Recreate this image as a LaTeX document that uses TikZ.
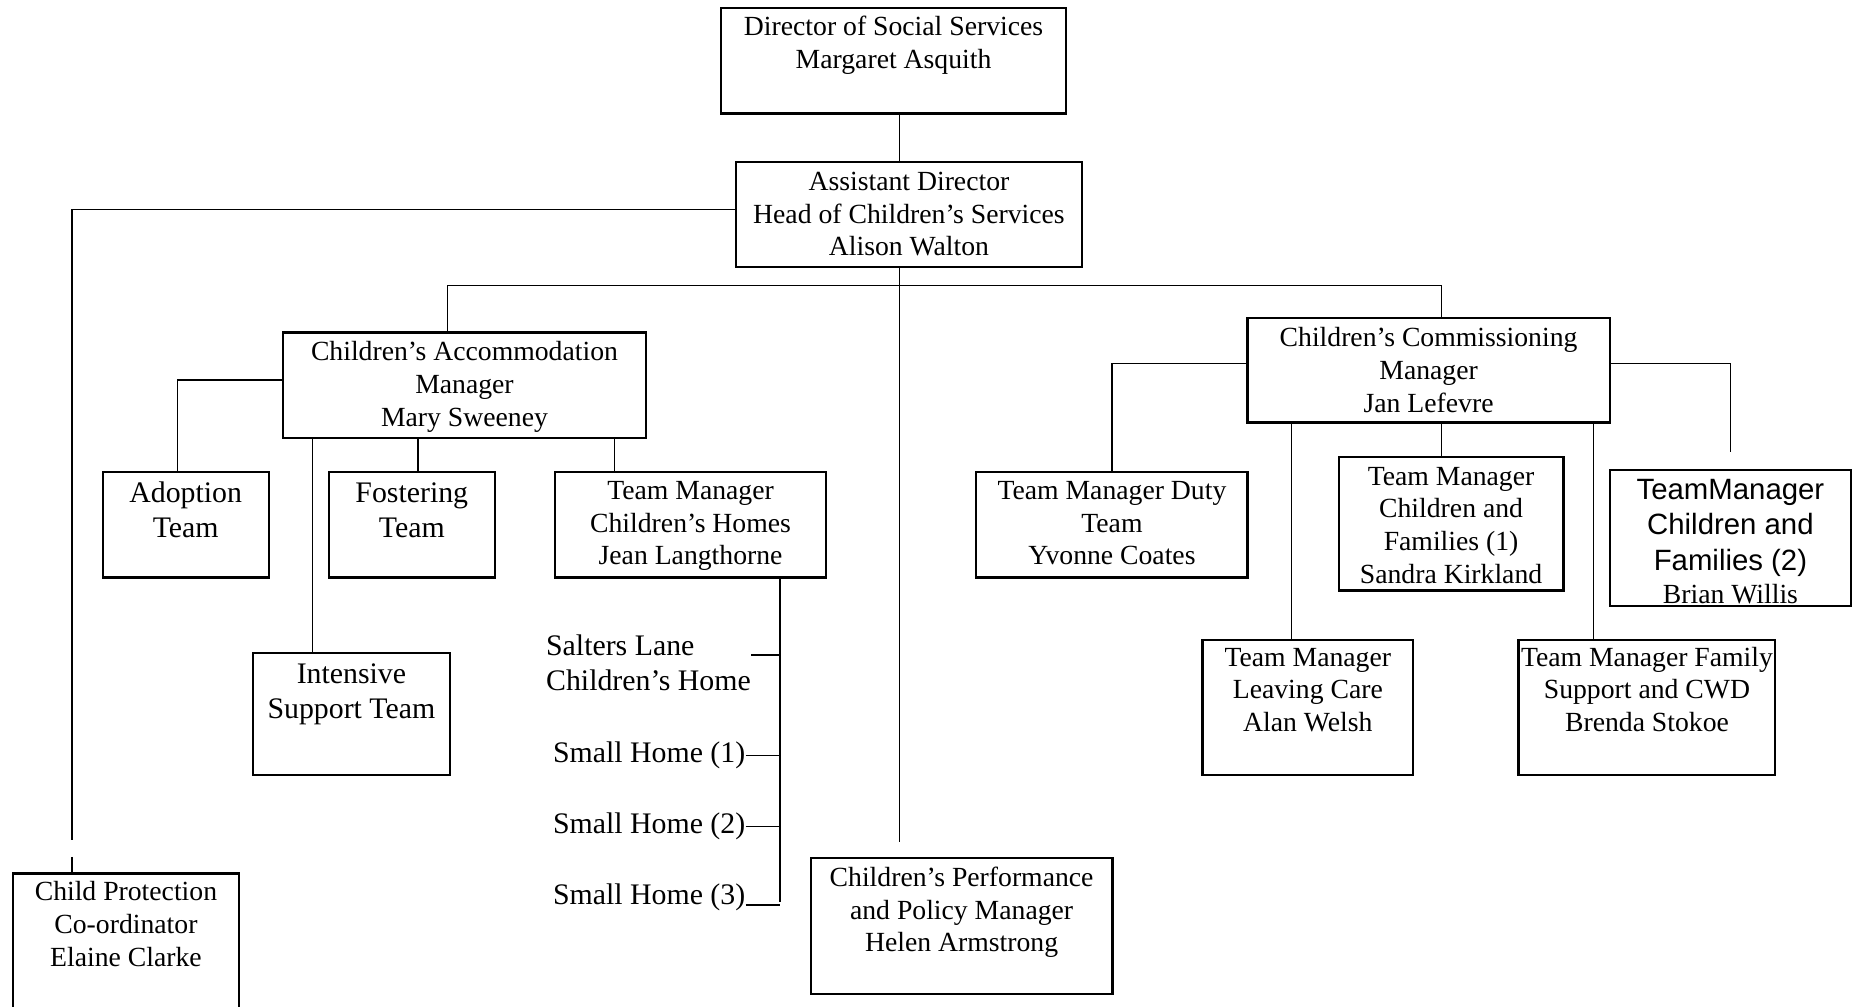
\documentclass[tikz,border=0pt]{standalone}
\usepackage{fontspec}
\setmainfont{Liberation Serif}
\newfontfamily\arialfont{Liberation Sans}
\usepackage{tikz}
\usetikzlibrary{calc,positioning}
\newcommand{\postlines}[1]{\begin{tabular}[t]{@{}c@{}}#1\end{tabular}}
\tikzstyle{post}=[draw,line width=0.9pt,inner sep=0pt,anchor=north west,font=\fontsize{11.7}{13.8}\selectfont]
\tikzstyle{bigpost}=[post,font=\fontsize{12.6}{15}\selectfont]
\tikzstyle{home}=[inner sep=0pt,font=\fontsize{12.6}{15}\selectfont]
\tikzstyle{link}=[line width=0.6pt]

\begin{document}
\begin{tikzpicture}[x=0.5pt,y=-0.5pt]
\path[use as bounding box,fill=white] (0,0) rectangle (1568,850);
\node [post,minimum width=146pt,text height=11.5pt,text depth=33pt] (dir) at (608,6) {\postlines{Director of Social Services\\Margaret Asquith}};
\node [post,minimum width=146pt,text height=12pt,text depth=32.5pt] (asst) at (621,136) {\postlines{Assistant Director\\Head of Children's Services\\Alison Walton}};
\node [post,minimum width=153.5pt,text height=12pt,text depth=32.5pt] (accom) at (238,280) {\postlines{Children's Accommodation\\Manager\\Mary Sweeney}};
\node [post,minimum width=153pt,text height=12pt,text depth=32pt] (comm) at (1053,268) {\postlines{Children's Commissioning\\Manager\\Jan Lefevre}};
\node [bigpost,minimum width=70pt,text height=12.75pt,text depth=31.75pt] (adopt) at (86,398) {\postlines{Adoption\\Team}};
\node [bigpost,minimum width=70pt,text height=12.75pt,text depth=31.75pt] (foster) at (277,398) {\postlines{Fostering\\Team}};
\node [post,minimum width=114.5pt,text height=11.5pt,text depth=33pt] (homes) at (468,398) {\postlines{Team Manager\\Children's Homes\\Jean Langthorne}};
\node [bigpost,minimum width=83pt,text height=12.75pt,text depth=38.75pt] (intens) at (213,551) {\postlines{Intensive\\Support Team}};
\node [post,minimum width=95.5pt,text height=11.5pt,text depth=63.5pt] (cp) at (10,737) {\postlines{Child Protection\\Co-ordinator\\Elaine Clarke}};
\node [post,minimum width=127.5pt,text height=12pt,text depth=45.5pt] (perf) at (684,724) {\postlines{Children's Performance\\and Policy Manager\\Helen Armstrong}};
\node [post,minimum width=114.5pt,text height=11.5pt,text depth=33pt] (duty) at (824,398) {\postlines{Team Manager Duty\\Team\\Yvonne Coates}};
\node [post,minimum width=95pt,text height=12pt,text depth=44.5pt] (cf1) at (1130,385) {\postlines{Team Manager\\Children and\\Families (1)\\Sandra Kirkland}};
\node [post,minimum width=102pt,text height=12.5pt,text depth=45pt] (cf2) at (1359,396) {\postlines{\arialfont\fontsize{12.4}{15}\selectfont TeamManager\\[1.2pt]\arialfont\fontsize{12.4}{15}\selectfont Children and\\[1.2pt]\arialfont\fontsize{12.4}{15}\selectfont Families (2)\\Brian Willis}};
\node [post,minimum width=89pt,text height=11pt,text depth=46pt] (leave) at (1015,540) {\postlines{Team Manager\\Leaving Care\\Alan Welsh}};
\node [post,minimum width=108.5pt,text height=11pt,text depth=46pt] (famsup) at (1282,540) {\postlines{Team Manager Family\\Support and CWD\\Brenda Stokoe}};
\node [home,anchor=base west] (salters) at (461,553.5) {\begin{tabular}[t]{@{}l@{}}Salters Lane\\Children's Home\end{tabular}};
\node [home,anchor=base east] (sh1) at (630,644.5) {Small Home (1)};
\node [home,anchor=base east] (sh2) at (630,704.5) {Small Home (2)};
\node [home,anchor=base east] (sh3) at (630,764.5) {Small Home (3)};

\coordinate (spine) at (760,711);
\coordinate (cpend) at (61,710);
\coordinate (cptop) at (61,724);
\coordinate (busL) at (378,241);
\coordinate (busR) at (1218,241);
\coordinate (trunk) at (659,762);
\coordinate (adoptdrop) at (150,0);
\coordinate (intdrop) at (264,0);
\coordinate (fosdrop) at (353,0);
\coordinate (homdrop) at (519,0);
\coordinate (levdrop) at (1091,0);
\coordinate (cf1drop) at (1218,0);
\coordinate (famdrop) at (1346,0);

\draw[link] (dir.south -| spine) -- (asst.north -| spine);
\draw[link] (asst.south -| spine) -- (spine);
\draw[link] ([yshift=2.25pt]asst.west) -| (cpend);
\draw[link] (cptop) -- (cptop |- cp.north);
\draw[link] (accom.north -| busL) -- (busL) -- (busR) -- (comm.north -| busR);
\draw[link] ([yshift=2.25pt]accom.west) -| (adopt.north -| adoptdrop);
\draw[link] (accom.south -| intdrop) -- (intens.north -| intdrop);
\draw[link] (accom.south -| fosdrop) -- (foster.north -| fosdrop);
\draw[link] (accom.south -| homdrop) -- (homes.north -| homdrop);
\draw[link] (homes.south -| trunk) -- (trunk);
\draw[link] (salters.base east) -- (salters.base east -| trunk);
\draw[link] (sh1.east) -- (sh1.east -| trunk);
\draw[link] (sh2.east) -- (sh2.east -| trunk);
\draw[link] (sh3.base east) -- (sh3.base east -| trunk);
\draw[link] ([yshift=3pt]comm.west) -| (duty.north);
\draw[link] (comm.south -| levdrop) -- (leave.north -| levdrop);
\draw[link] (comm.south -| cf1drop) -- (cf1.north -| cf1drop);
\draw[link] (comm.south -| famdrop) -- (famsup.north -| famdrop);
\draw[link] ([yshift=3pt]comm.east) -| ([yshift=7pt]cf2.north);
\end{tikzpicture}
\end{document}
